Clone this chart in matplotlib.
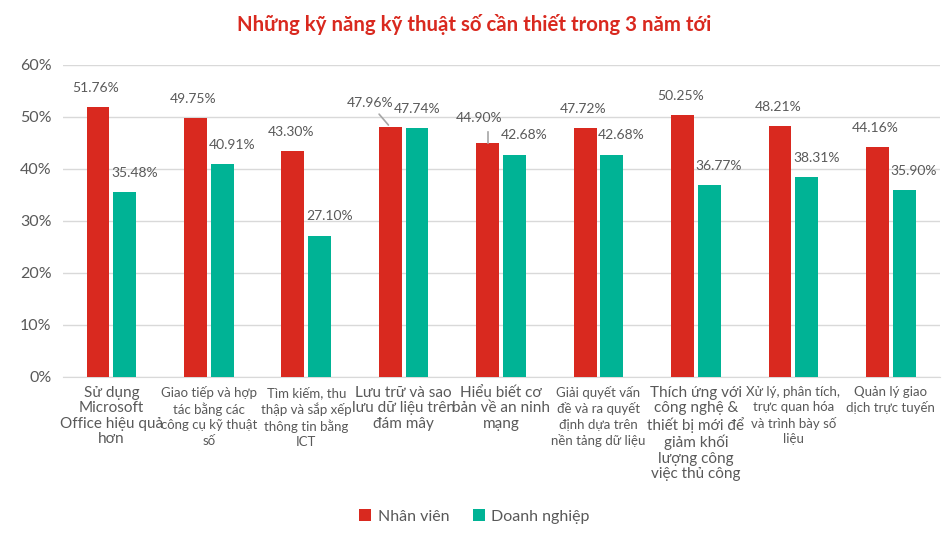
import matplotlib.pyplot as plt
import numpy as np

# Skill categories (x axis) and survey shares
categories = [
    "Sử dụng\nMicrosoft\nOffice hiệu quả\nhơn",
    "Giao tiếp và hợp\ntác bằng các\ncông cụ kỹ thuật\nsố",
    "Tìm kiếm, thu\nthập và sắp xếp\nthông tin bằng\nICT",
    "Lưu trữ và sao\nlưu dữ liệu trên\nđám mây",
    "Hiểu biết cơ\nbản về an ninh\nmạng",
    "Giải quyết vấn\nđề và ra quyết\nđịnh dựa trên\nnền tảng dữ liệu",
    "Thích ứng với\ncông nghệ &\nthiết bị mới để\ngiảm khối\nlượng công\nviệc thủ công",
    "Xử lý, phân tích,\ntrực quan hóa\nvà trình bày số\nliệu",
    "Quản lý giao\ndịch trực tuyến",
]
nhan_vien = [51.76, 49.75, 43.30, 47.96, 44.90, 47.72, 50.25, 48.21, 44.16]
doanh_nghiep = [35.48, 40.91, 27.10, 47.74, 42.68, 42.68, 36.77, 38.31, 35.90]
label_sizes = [11, 9.5, 9.5, 11, 11, 9.5, 11, 9.5, 9.5]

RED = "#d9291f"
GREEN = "#00b395"
GREY = "#595959"

plt.rcParams['font.family'] = ['Lato', 'DejaVu Sans']

fig = plt.figure(figsize=(9.49, 5.38), dpi=100)
ax = fig.add_axes([0.066, 0.30, 0.924, 0.58])

x = np.arange(len(categories))
w = 0.235
gap = 0.02
ax.bar(x - w / 2 - gap, nhan_vien, w, color=RED, label="Nhân viên", zorder=3)
ax.bar(x + w / 2 + gap, doanh_nghiep, w, color=GREEN, label="Doanh nghiệp", zorder=3)

# data labels, two of them pulled away with a leader line as in the original
for i, (r, g) in enumerate(zip(nhan_vien, doanh_nghiep)):
    xr = x[i] - w / 2 - gap
    xg = x[i] + w / 2 + gap
    if i == 3:
        ax.annotate(f"{r:.2f}%", xy=(xr, r), xytext=(xr - 0.21, r + 4.6),
                    ha="center", va="center", fontsize=10, color=GREY, zorder=5,
                    arrowprops=dict(arrowstyle="-", color="#a6a6a6", lw=1.2))
    elif i == 4:
        ax.plot([xr, xr], [r, r + 2.2], color="#a6a6a6", lw=1.2, zorder=4)
        ax.text(xr - 0.09, r + 4.9, f"{r:.2f}%", ha="center", va="center",
                fontsize=10, color=GREY, zorder=5)
    else:
        ax.text(xr - 0.02, r + 3.7, f"{r:.2f}%", ha="center", va="center",
                fontsize=10, color=GREY, zorder=5)
    dx = 0.0 if i == 3 else 0.1
    ax.text(xg + dx, g + 3.7, f"{g:.2f}%", ha="center", va="center",
            fontsize=10, color=GREY, zorder=5)

ax.set_ylim(0, 60)
ax.set_xlim(-0.5, len(categories) - 0.5)
ax.set_yticks(range(0, 61, 10))
ax.set_yticklabels([f"{v}%" for v in range(0, 61, 10)], fontsize=11.5, color=GREY)
ax.set_xticks(x)
ax.set_xticklabels([])
for i, (lab, fs) in enumerate(zip(categories, label_sizes)):
    ax.text(x[i], -1.8, lab, ha="center", va="top", fontsize=fs, color=GREY,
            linespacing=1.13 if fs > 10 else 1.32)

ax.grid(axis="y", color="#d9d9d9", lw=1, zorder=0)
ax.tick_params(length=0, pad=8)
for s in ["top", "right", "left"]:
    ax.spines[s].set_visible(False)
ax.spines["bottom"].set_color("#d9d9d9")

fig.text(0.5, 0.955, "Những kỹ năng kỹ thuật số cần thiết trong 3 năm tới",
         ha="center", va="center", fontsize=14.7, fontweight="bold", color=RED)

fig.legend(loc="lower center", bbox_to_anchor=(0.5, 0.0), ncol=2, frameon=False,
           fontsize=11.5, labelcolor=GREY, handlelength=0.75, handleheight=0.75,
           columnspacing=1.5, handletextpad=0.4)

fig.savefig("out.png", dpi=100)
